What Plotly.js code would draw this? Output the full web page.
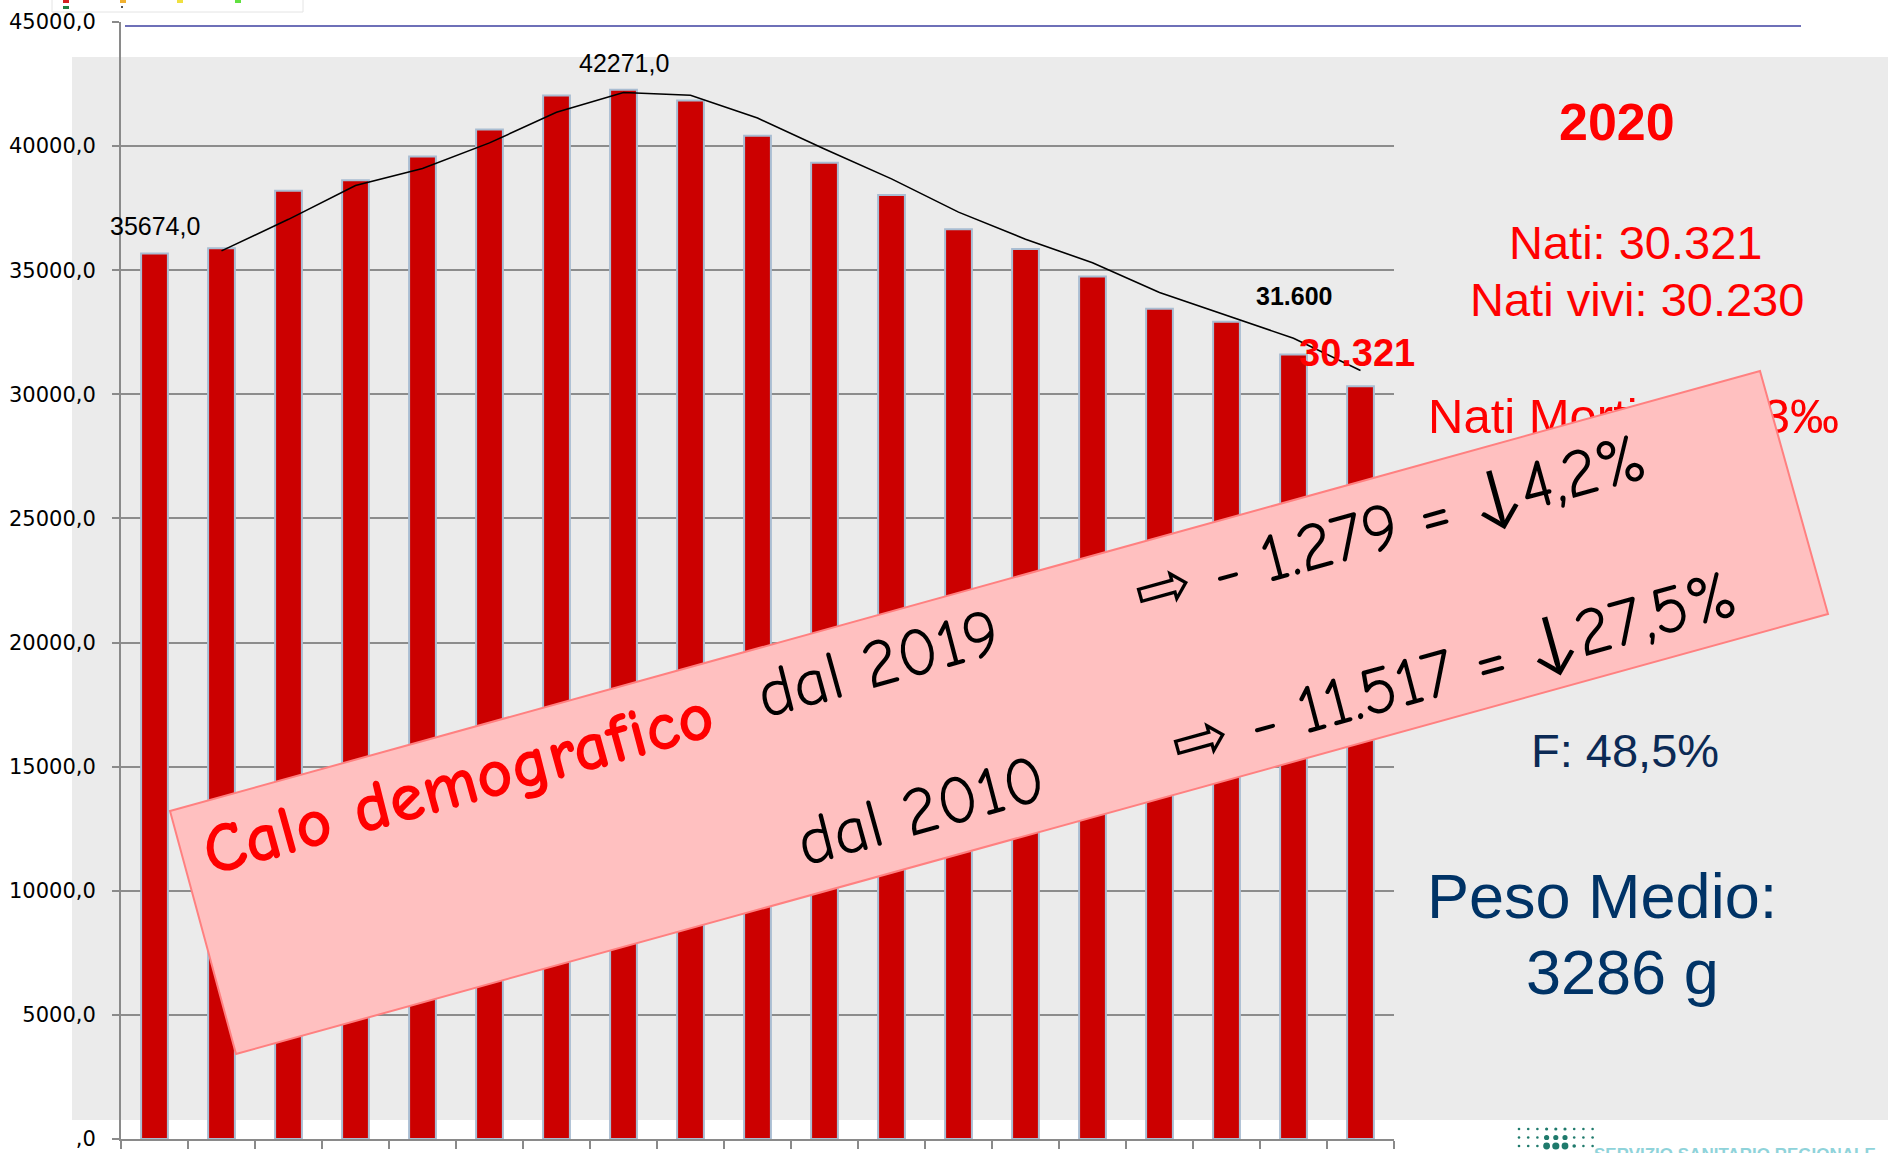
<!DOCTYPE html>
<html><head><meta charset="utf-8">
<script src="https://cdn.plot.ly/plotly-3.0.1.min.js"></script>
<style>html,body{margin:0;padding:0;background:#fff}#chart{width:1892px;height:1153px}</style>
</head><body><div id="chart"></div>
<script>
// ---- data ----
const years = ['2002','2003','2004','2005','2006','2007','2008','2009','2010','2011','2012','2013','2014','2015','2016','2017','2018','2019','2020'];
const births = [35674, 35890, 38200, 38620, 39580, 40670, 42040, 42271, 41838, 40420, 39330, 38030, 36650, 35850, 34750, 33450, 32920, 31600, 30321];
const trend = [null, 35780, 37050, 38410, 39100, 40130, 41360, 42160, 42050, 41130, 39880, 38680, 37340, 36250, 35300, 34100, 33190, 32260, 30960];
const yTickVals = [0, 5000, 10000, 15000, 20000, 25000, 30000, 35000, 40000, 45000];
const yTickText = [',0', '5000,0', '10000,0', '15000,0', '20000,0', '25000,0', '30000,0', '35000,0', '40000,0', '45000,0'];
const labelYears = ['2002', '2009', '2019', '2020'];
const labelTexts = ['35674,0', '42271,0', '31.600', '30.321'];
const panelTitle = '2020';
const panelLines = ['Nati: 30.321', 'Nati vivi: 30.230'];
const stillbirthLabel = 'Nati Morti:';
const stillbirthValue = '2,83‰';
const femaleShare = 'F: 48,5%';
const weightLines = ['Peso Medio:', '3286 g'];
const boxTitle = 'Calo demografico';
const boxFrom = ['dal 2019', 'dal 2010'];
const boxDelta = ['⇨ - 1.279 = ↓4,2%', '⇨ - 11.517 = ↓27,5%'];

// ---- layout helpers (pixel -> paper) ----
const W = 1892, H = 1153, ML = 121, MR = 498, MT = 22, MB = 14;
const PW = W - ML - MR, PH = H - MT - MB;
const px = x => (x - ML) / PW;
const py = y => (H - MB - y) / PH;

const sans = 'Liberation Sans, Arial, sans-serif';
const labelStyles = [
  {font: {family: sans, size: 25, color: '#000'}, yshift: 27, xshift: 0},
  {font: {family: sans, size: 25, color: '#000'}, yshift: 27, xshift: 0},
  {font: {family: sans, size: 25, color: '#000', weight: 'bold'}, yshift: 59, xshift: 0},
  {font: {family: sans, size: 38, color: '#FF0000', weight: 'bold'}, yshift: 33, xshift: -4}
];

const annotations = [];
labelYears.forEach((yr, i) => {
  const idx = years.indexOf(yr);
  annotations.push(Object.assign({x: idx, y: births[idx], xref: 'x', yref: 'y', text: labelTexts[i], showarrow: false,
    xanchor: 'center', yanchor: 'middle'}, labelStyles[i]));
});

function pa(text, x, y, font, extra) {
  annotations.push(Object.assign({xref: 'paper', yref: 'paper', x: px(x), y: py(y), text: text, showarrow: false,
    xanchor: 'center', yanchor: 'middle', font: font}, extra || {}));
}
pa(panelTitle, 1617, 122, {family: sans, size: 52, color: '#FF0000', weight: 'bold'});
pa(panelLines[0], 1635, 243, {family: sans, size: 47, color: '#FF0000'});
pa(panelLines[1], 1637, 300, {family: sans, size: 47, color: '#FF0000'});
pa(femaleShare, 1625, 750, {family: sans, size: 47, color: '#0B2A55'});
pa(weightLines[0], 1602, 896, {family: sans, size: 63, color: '#003366'});
pa(weightLines[1], 1622, 972, {family: sans, size: 63, color: '#003366'});

const comic = 'Comic Sans MS, Comic Neue, Lato, sans-serif';
const ang = -15.5;
pa(boxTitle, 458, 784, {family: comic, size: 70, color: '#FF0000', weight: 'bold'}, {textangle: ang});
pa(boxFrom[0], 878, 664, {family: comic, size: 68, color: '#000'}, {textangle: ang});
pa(boxFrom[1], 921, 811, {family: comic, size: 68, color: '#000'}, {textangle: ang});
pa(boxDelta[0], 1390, 526, {family: comic, size: 68, color: '#000'}, {textangle: ang});
pa(boxDelta[1], 1454, 670, {family: comic, size: 68, color: '#000'}, {textangle: ang});

// logo text (cut off at the bottom edge, as in the source slide)
pa('SERVIZIO SANITARIO REGIONALE', 1735, 1143, {family: sans, size: 17, color: '#8FD3DA', weight: 'bold'}, {yanchor: 'top'});

// ---- shapes ----
const shapes = [];
shapes.push({type: 'rect', xref: 'paper', yref: 'paper', x0: px(72), x1: px(1888), y0: py(1120), y1: py(57),
  fillcolor: '#EBEBEB', line: {width: 0}, layer: 'below'});
shapes.push({type: 'line', xref: 'paper', yref: 'paper', x0: px(125), x1: px(1801), y0: py(26), y1: py(26),
  line: {color: '#6E70B8', width: 2}, layer: 'above'});
shapes.push({type: 'rect', xref: 'paper', yref: 'paper', x0: px(1422), x1: px(1700), y0: py(441), y1: py(381),
  line: {width: 0}, fillcolor: 'rgba(0,0,0,0)', layer: 'above',
  label: {text: stillbirthLabel, textposition: 'middle left', font: {family: sans, size: 49, color: '#FF0000'}, padding: 3}});
shapes.push({type: 'rect', xref: 'paper', yref: 'paper', x0: px(1650), x1: px(1845), y0: py(441), y1: py(381),
  line: {width: 0}, fillcolor: 'rgba(0,0,0,0)', layer: 'above',
  label: {text: stillbirthValue, textposition: 'middle right', font: {family: sans, size: 49, color: '#FF0000'}, padding: 3}});
const box = [[170, 811], [1760, 371], [1828, 614], [236, 1054]];
shapes.push({type: 'path', xref: 'paper', yref: 'paper',
  path: 'M ' + box.map(p => px(p[0]) + ',' + py(p[1])).join(' L ') + ' Z',
  fillcolor: '#FFC0C0', line: {color: '#FF8080', width: 2}, layer: 'above'});
shapes.push({type: 'rect', xref: 'paper', yref: 'paper', x0: px(52), x1: px(303), y0: py(12), y1: py(-2),
  fillcolor: '#FFFFFF', line: {color: '#E4E4E4', width: 1}, layer: 'above'});
[[63, '#D42020', 0], [120, '#F0B030', 0], [177, '#F0E040', 0], [235, '#60E040', 0], [63, '#208040', 6]].forEach(s => {
  shapes.push({type: 'rect', xref: 'paper', yref: 'paper', x0: px(s[0]), x1: px(s[0] + 6), y0: py(s[2] + 3), y1: py(s[2]),
    fillcolor: s[1], line: {width: 0}, layer: 'above'});
});
shapes.push({type: 'rect', xref: 'paper', yref: 'paper', x0: px(121), x1: px(123), y0: py(8), y1: py(6),
  fillcolor: '#555', line: {width: 0}, layer: 'above'});
const dotR = [[1.3,1.3,1.3,1.6,1.6,1.6,1.3,1.3,1.3],[1.3,1.3,1.3,2.6,2.6,2.6,1.3,1.3,1.3],[1.3,1.3,1.3,3.4,3.6,3.4,1.8,1.3,1.3]];
dotR.forEach((row, r) => row.forEach((rad, c) => {
  const cx = 1519 + c * 9.2, cy = 1129 + r * 8.5;
  shapes.push({type: 'circle', xref: 'paper', yref: 'paper', x0: px(cx - rad), x1: px(cx + rad), y0: py(cy + rad), y1: py(cy - rad),
    fillcolor: '#1F7A6C', line: {width: 0}, layer: 'above'});
}));

const traces = [
  {type: 'bar', x: years, y: births, marker: {color: '#CC0000', line: {color: '#A9BDD2', width: 2}},
   hoverinfo: 'x+y'},
  {type: 'scatter', mode: 'lines', x: years, y: trend, line: {color: '#000000', width: 1.6}, connectgaps: false,
   hoverinfo: 'skip'}
];

const layout = {
  width: W, height: H,
  margin: {l: ML, r: MR, t: MT, b: MB, pad: 0},
  paper_bgcolor: '#FFFFFF', plot_bgcolor: 'rgba(0,0,0,0)',
  showlegend: false, bargap: 0.6,
  xaxis: {type: 'category', range: [-0.5, years.length - 0.5], autorange: false, showticklabels: false,
    ticks: 'outside', tickson: 'boundaries', ticklen: 8,
    tickcolor: '#8A8A8A', tickwidth: 2, showline: true, linecolor: '#8A8A8A', linewidth: 2, showgrid: false,
    zeroline: false, fixedrange: true},
  yaxis: {range: [0, 45000], autorange: false, tickvals: yTickVals, ticktext: yTickText, ticks: 'outside', ticklen: 7,
    tickcolor: '#8A8A8A', tickwidth: 2, showline: true, linecolor: '#8A8A8A', linewidth: 2,
    showgrid: true, gridcolor: '#8C8C8C', gridwidth: 2, zeroline: false, ticklabelstandoff: 12,
    tickfont: {family: 'DejaVu Sans, Verdana, sans-serif', size: 21, color: '#000'}, fixedrange: true},
  shapes: shapes,
  annotations: annotations
};

Plotly.newPlot('chart', traces, layout, {displayModeBar: false, staticPlot: true});
</script>
</body></html>
